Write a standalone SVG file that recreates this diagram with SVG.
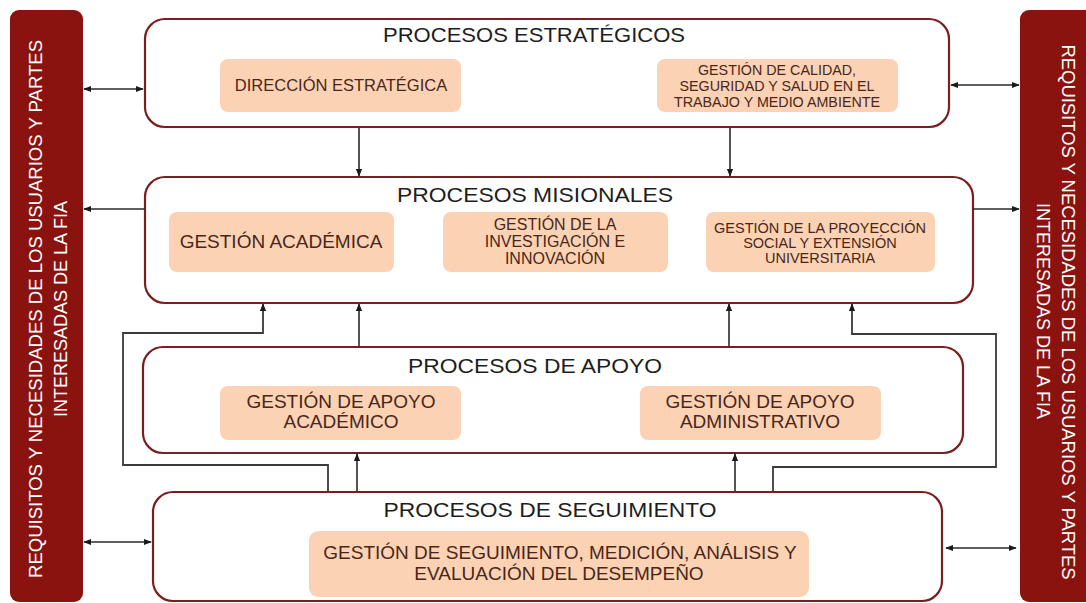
<svg xmlns="http://www.w3.org/2000/svg" width="1086" height="603" viewBox="0 0 1086 603">
<defs>
<style>
.side{fill:#8a130f;}
.sidetxt{font-family:"Liberation Sans",Arial,sans-serif;font-size:18px;fill:#ffffff;text-anchor:middle;}
.group{fill:#ffffff;stroke:#7a1f1f;stroke-width:2.2;}
.sub{fill:#fbd3b4;}
.title{font-family:"Liberation Sans",Arial,sans-serif;font-size:21px;fill:#1e1e1e;text-anchor:middle;}
.lbl{font-family:"Liberation Sans",Arial,sans-serif;fill:#4a2619;text-anchor:middle;}
.conn{fill:none;stroke:#2a2a2a;stroke-width:1.6;}
.loop{fill:none;stroke:#3a3a3a;stroke-width:1.8;}
</style>
<marker id="ah" viewBox="0 0 10 10" refX="9" refY="5" markerWidth="8" markerHeight="8" markerUnits="userSpaceOnUse" orient="auto-start-reverse">
<path d="M0,1 L10,5 L0,9 Z" fill="#1a1a1a"/>
</marker>
</defs>
<rect width="1086" height="603" fill="#ffffff"/>

<g id="side-left">
<rect class="side" x="10" y="10" width="73" height="592" rx="9"/>
<text class="sidetxt" transform="translate(42,309) rotate(-90)" textLength="538" lengthAdjust="spacingAndGlyphs">REQUISITOS Y NECESIDADES DE LOS USUARIOS Y PARTES</text>
<text class="sidetxt" transform="translate(67,309) rotate(-90)">INTERESADAS DE LA FIA</text>
</g>

<g id="side-right">
<rect class="side" x="1020" y="10" width="80" height="592" rx="9"/>
<text class="sidetxt" transform="translate(1062,312) rotate(90)" textLength="535" lengthAdjust="spacingAndGlyphs">REQUISITOS Y NECESIDADES DE LOS USUARIOS Y PARTES</text>
<text class="sidetxt" transform="translate(1037,311) rotate(90)">INTERESADAS DE LA FIA</text>
</g>

<g id="estrategicos">
<rect class="group" x="145" y="19" width="804" height="108" rx="20"/>
<text class="title" x="534" y="42" textLength="302" lengthAdjust="spacingAndGlyphs">PROCESOS ESTRATÉGICOS</text>
<rect class="sub" x="220" y="59" width="241" height="53" rx="8"/>
<text class="lbl" x="341" y="91" font-size="16.5">DIRECCIÓN ESTRATÉGICA</text>
<rect class="sub" x="657" y="59" width="241" height="53" rx="8"/>
<text class="lbl" x="777" y="75" font-size="14.3">GESTIÓN DE CALIDAD,</text>
<text class="lbl" x="777" y="91" font-size="14.3">SEGURIDAD Y SALUD EN EL</text>
<text class="lbl" x="777" y="107" font-size="14.3">TRABAJO Y MEDIO AMBIENTE</text>
</g>

<g id="misionales">
<rect class="group" x="145" y="177" width="828" height="126" rx="20"/>
<text class="title" x="535" y="202" textLength="276" lengthAdjust="spacingAndGlyphs">PROCESOS MISIONALES</text>
<rect class="sub" x="169" y="212" width="225" height="60" rx="8"/>
<text class="lbl" x="281" y="248" font-size="19">GESTIÓN ACADÉMICA</text>
<rect class="sub" x="443" y="212" width="225" height="60" rx="8"/>
<text class="lbl" x="555" y="230" font-size="16">GESTIÓN DE LA</text>
<text class="lbl" x="555" y="247" font-size="16">INVESTIGACIÓN E</text>
<text class="lbl" x="555" y="264" font-size="16">INNOVACIÓN</text>
<rect class="sub" x="706" y="212" width="229" height="60" rx="8"/>
<text class="lbl" x="820" y="233" font-size="14.5">GESTIÓN DE LA PROYECCIÓN</text>
<text class="lbl" x="820" y="248" font-size="14.5">SOCIAL Y EXTENSIÓN</text>
<text class="lbl" x="820" y="263" font-size="14.5">UNIVERSITARIA</text>
</g>

<g id="apoyo">
<rect class="group" x="143" y="347" width="820" height="106" rx="20"/>
<text class="title" x="535" y="373" textLength="254" lengthAdjust="spacingAndGlyphs">PROCESOS DE APOYO</text>
<rect class="sub" x="220" y="386" width="241" height="54" rx="8"/>
<text class="lbl" x="341" y="408" font-size="19">GESTIÓN DE APOYO</text>
<text class="lbl" x="341" y="428" font-size="19">ACADÉMICO</text>
<rect class="sub" x="640" y="386" width="241" height="54" rx="8"/>
<text class="lbl" x="760" y="408" font-size="19">GESTIÓN DE APOYO</text>
<text class="lbl" x="760" y="428" font-size="19">ADMINISTRATIVO</text>
</g>

<g id="seguimiento">
<rect class="group" x="153" y="492" width="789" height="109" rx="20"/>
<text class="title" x="550" y="517" textLength="333" lengthAdjust="spacingAndGlyphs">PROCESOS DE SEGUIMIENTO</text>
<rect class="sub" x="309" y="531" width="500" height="66" rx="9"/>
<text class="lbl" x="560" y="559" font-size="19">GESTIÓN DE SEGUIMIENTO, MEDICIÓN, ANÁLISIS Y</text>
<text class="lbl" x="559" y="580" font-size="19">EVALUACIÓN DEL DESEMPEÑO</text>
</g>

<g id="connectors">
<line class="conn" x1="84" y1="89" x2="143" y2="89" marker-start="url(#ah)" marker-end="url(#ah)"/>
<line class="conn" x1="951" y1="85" x2="1019" y2="85" marker-start="url(#ah)" marker-end="url(#ah)"/>
<line class="conn" x1="145" y1="209" x2="84" y2="209" marker-end="url(#ah)"/>
<line class="conn" x1="973" y1="209" x2="1019" y2="209" marker-end="url(#ah)"/>
<line class="conn" x1="84" y1="542" x2="151" y2="542" marker-start="url(#ah)" marker-end="url(#ah)"/>
<line class="conn" x1="946" y1="548" x2="1016" y2="548" marker-start="url(#ah)" marker-end="url(#ah)"/>
<line class="conn" x1="359" y1="128" x2="359" y2="176" marker-end="url(#ah)"/>
<line class="conn" x1="730" y1="128" x2="730" y2="176" marker-end="url(#ah)"/>
<line class="conn" x1="359" y1="346" x2="359" y2="304" marker-end="url(#ah)"/>
<line class="conn" x1="729" y1="346" x2="729" y2="304" marker-end="url(#ah)"/>
<line class="conn" x1="357" y1="491" x2="357" y2="454" marker-end="url(#ah)"/>
<line class="conn" x1="735" y1="491" x2="735" y2="454" marker-end="url(#ah)"/>
<path class="loop" d="M328,491 V465 H123 V333 H263 V304" marker-end="url(#ah)"/>
<path class="loop" d="M773,491 V467 H996 V334 H852 V304" marker-end="url(#ah)"/>
</g>
</svg>
